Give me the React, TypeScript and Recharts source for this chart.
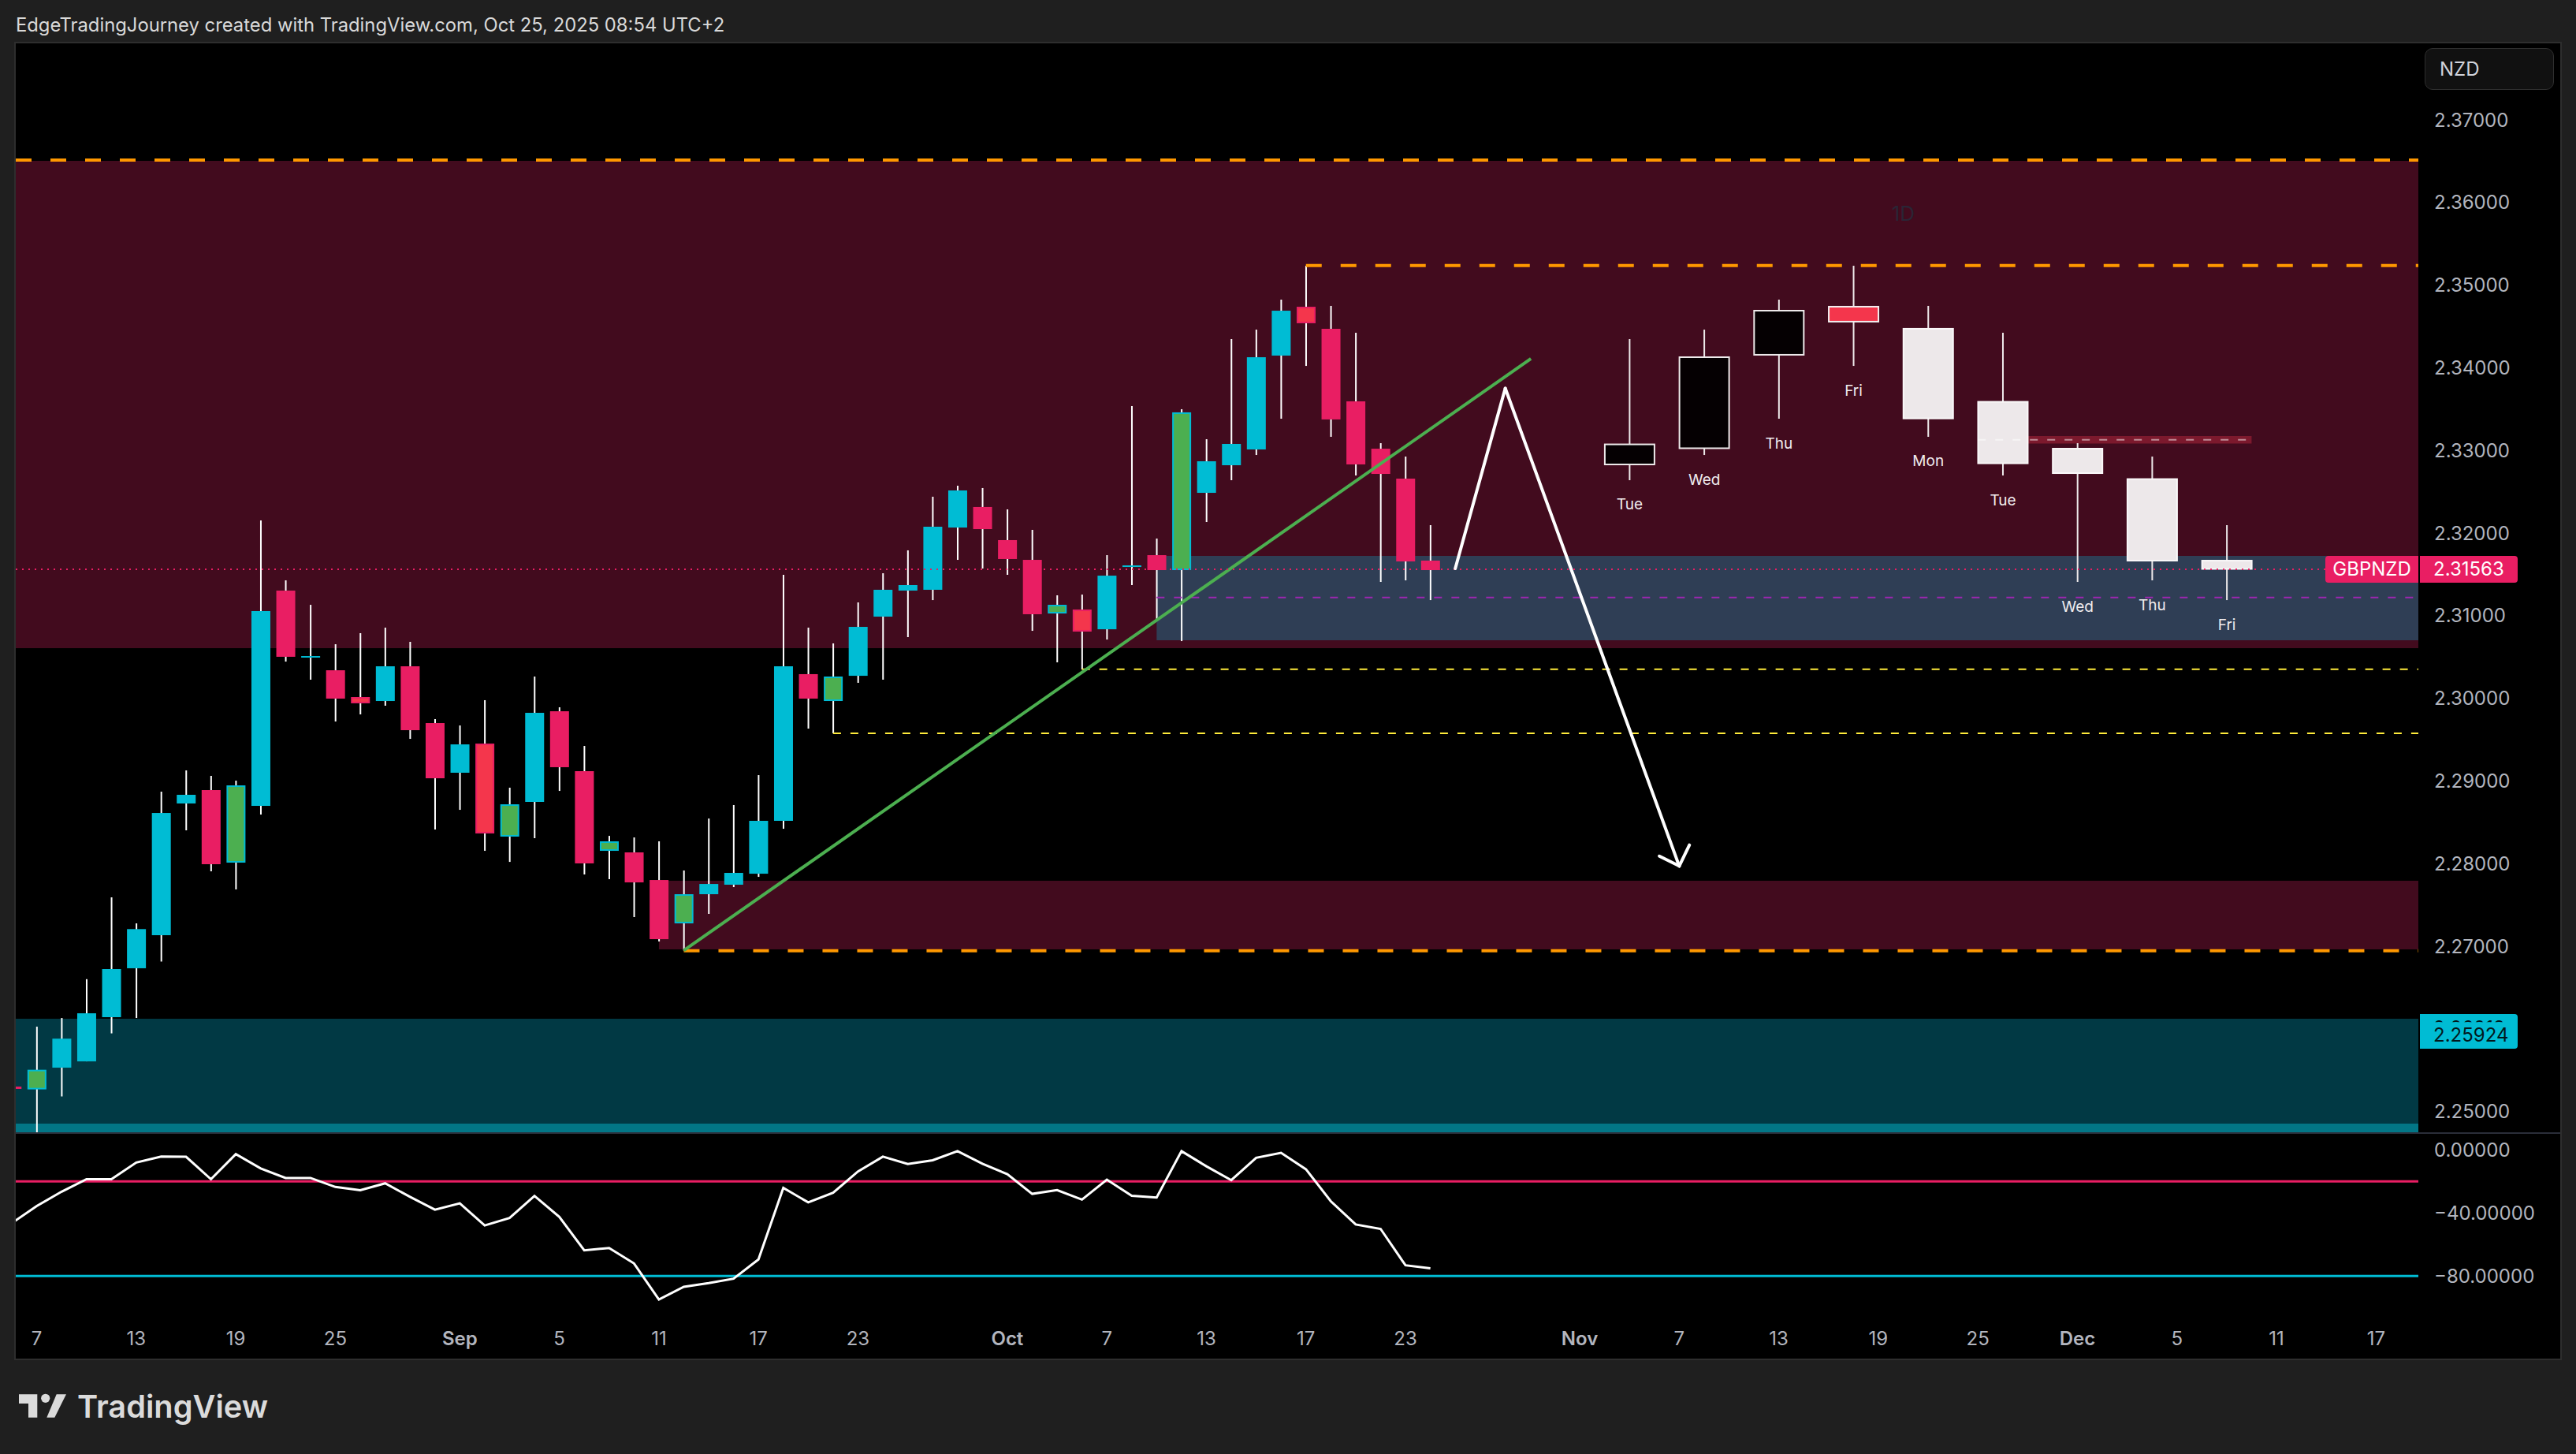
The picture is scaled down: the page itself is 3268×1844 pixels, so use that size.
import React from 'react';
import { ComposedChart, LineChart, Bar, Line, XAxis, YAxis, ReferenceArea, ReferenceLine, ReferenceDot } from 'recharts';

const FONT = 'Inter, Roboto, sans-serif';
const PINK = '#E91E63';
const CYAN = '#00BCD4';
const GREEN = '#4CAF50';
const RED = '#F4364C';
const ORANGE = '#FF9800';
const YELLOW = '#FFEB3B';
const PURPLE = '#9C27B0';
const MAROON = '#420B1E';
const AXIS_TEXT = '#B2B5BE';

// x positions are trading-day counts from Aug 7
const XMIN = -0.843;
const XMAX = 95.7;
const YMIN = 2.2475;
const YMAX = 2.37927;

const dayIndex = [-1, 0, 1, 2, 3, 4, 5, 6, 7, 8, 9, 10, 11, 12, 13, 14, 15, 16, 17, 18, 19, 20, 21, 22, 23, 24, 25, 26, 27, 28, 29, 30, 31, 32, 33, 34, 35, 36, 37, 38, 39, 40, 41, 42, 43, 44, 45, 46, 47, 48, 49, 50, 51, 52, 53, 54, 55, 56];
const kinds = ['D', 'UF', 'U', 'U', 'U', 'U', 'U', 'U', 'D', 'UF', 'U', 'D', 'U', 'D', 'DF', 'U', 'D', 'D', 'U', 'DF', 'UF', 'U', 'D', 'D', 'UF', 'D', 'D', 'UF', 'U', 'U', 'U', 'U', 'D', 'UF', 'U', 'U', 'U', 'U', 'U', 'D', 'D', 'D', 'UF', 'DF', 'U', 'U', 'D', 'UF', 'U', 'U', 'U', 'U', 'DF', 'D', 'D', 'D', 'D', 'D'];
const highs = [2.2535, 2.26028, 2.26133, 2.26603, 2.27593, 2.27278, 2.28872, 2.29129, 2.29063, 2.29005, 2.32154, 2.31429, 2.31133, 2.30656, 2.3079, 2.30857, 2.30685, 2.2975, 2.29673, 2.29979, 2.2892, 2.30265, 2.29893, 2.29425, 2.28337, 2.28318, 2.28271, 2.27918, 2.28547, 2.2871, 2.29072, 2.31496, 2.30857, 2.30666, 2.31162, 2.31515, 2.31792, 2.32441, 2.32574, 2.32546, 2.32288, 2.3204, 2.31248, 2.31257, 2.31734, 2.33538, 2.31935, 2.335, 2.33137, 2.34349, 2.34463, 2.34826, 2.35236, 2.3475, 2.34425, 2.33089, 2.32927, 2.32097];
const bodyTops = [2.25303, 2.25507, 2.25883, 2.2619, 2.26725, 2.27209, 2.28614, 2.28834, 2.28891, 2.28948, 2.31057, 2.31305, 2.30513, 2.30341, 2.30017, 2.30389, 2.30389, 2.29702, 2.29444, 2.29454, 2.28719, 2.29826, 2.29845, 2.2912, 2.28271, 2.28137, 2.27803, 2.27631, 2.27755, 2.27889, 2.28519, 2.30389, 2.30294, 2.30265, 2.30866, 2.31315, 2.31372, 2.32078, 2.32517, 2.32317, 2.31916, 2.31677, 2.31133, 2.31076, 2.31486, 2.3161, 2.31734, 2.33462, 2.3287, 2.3308, 2.34129, 2.34692, 2.3474, 2.34473, 2.33595, 2.33022, 2.3266, 2.31668];
const bodyBottoms = [2.25275, 2.25269, 2.25532, 2.25608, 2.26143, 2.26735, 2.27135, 2.28729, 2.27994, 2.28013, 2.287, 2.30504, 2.30494, 2.29998, 2.29941, 2.29969, 2.29616, 2.29034, 2.29101, 2.28366, 2.28328, 2.28748, 2.29168, 2.28004, 2.28156, 2.27774, 2.27087, 2.27278, 2.27631, 2.27746, 2.27879, 2.28519, 2.29998, 2.29969, 2.30274, 2.3099, 2.31305, 2.31315, 2.32068, 2.32049, 2.31687, 2.31019, 2.31028, 2.30809, 2.30837, 2.31591, 2.31553, 2.31553, 2.32488, 2.32822, 2.33013, 2.34149, 2.3454, 2.33376, 2.32832, 2.32717, 2.31658, 2.31553];
const lows = [2.2525, 2.2475, 2.25184, 2.25608, 2.25947, 2.26133, 2.26816, 2.28404, 2.27908, 2.27689, 2.28595, 2.30446, 2.30227, 2.29721, 2.29807, 2.29912, 2.29511, 2.28414, 2.28652, 2.28156, 2.28022, 2.28309, 2.28881, 2.2787, 2.27813, 2.27355, 2.27059, 2.2695, 2.27393, 2.27717, 2.27841, 2.28423, 2.29635, 2.29578, 2.30189, 2.30227, 2.30742, 2.3119, 2.31677, 2.31572, 2.31496, 2.30818, 2.30437, 2.30351, 2.30713, 2.31372, 2.30962, 2.30694, 2.32135, 2.32641, 2.32946, 2.33385, 2.34024, 2.33166, 2.32698, 2.3141, 2.31429, 2.3119];

// projected copy of the latest sessions
const ghostIndex = [64, 67, 70, 73, 76, 79, 82, 85, 88];
const ghostDays = ['Tue', 'Wed', 'Thu', 'Fri', 'Mon', 'Tue', 'Wed', 'Thu', 'Fri'];
const ghostKinds = ['GD', 'GD', 'GD', 'GR', 'GL', 'GL', 'GL', 'GL', 'GL'];
const ghostHighs = [2.34349, 2.34463, 2.34826, 2.35236, 2.3475, 2.34425, 2.33089, 2.32927, 2.32097];
const ghostTops = [2.33084, 2.34139, 2.34702, 2.3475, 2.34483, 2.33599, 2.33032, 2.32664, 2.31677];
const ghostBottoms = [2.32822, 2.33018, 2.34149, 2.3455, 2.33379, 2.32836, 2.32717, 2.31658, 2.31558];
const ghostLows = [2.32641, 2.32946, 2.33385, 2.34024, 2.33166, 2.32698, 2.3141, 2.31429, 2.3119];

const priceTicks = [2.25, 2.27, 2.28, 2.29, 2.3, 2.31, 2.32, 2.33, 2.34, 2.35, 2.36, 2.37];
const oscTicks = [0, -40, -80];
const timeTickIndex = [0, 4, 8, 12, 17, 21, 25, 29, 33, 39, 43, 47, 51, 55, 62, 66, 70, 74, 78, 82, 86, 90, 94];
const timeTickLabels = ['7', '13', '19', '25', 'Sep', '5', '11', '17', '23', 'Oct', '7', '13', '17', '23', 'Nov', '7', '13', '19', '25', 'Dec', '5', '11', '17'];
const monthLabels = ['Sep', 'Oct', 'Nov', 'Dec'];

const oscValues = [-46.4, -35.6, -26.5, -18.6, -18.6, -8.0, -4.2, -4.4, -18.6, -2.7, -11.8, -17.8, -17.8, -23.5, -25.6, -21.2, -29.8, -37.9, -33.9, -47.9, -43.2, -29.2, -42.5, -63.7, -62.2, -72.0, -94.9, -86.8, -84.5, -81.7, -69.5, -24.1, -33.3, -27.2, -13.7, -4.3, -9.0, -6.6, -0.8, -8.8, -15.4, -27.9, -25.5, -31.5, -18.9, -29.1, -30.2, -0.8, -10.4, -19.2, -5.0, -1.9, -12.3, -32.6, -47.3, -50.1, -73.2, -75.1];

const LAST_PRICE = 2.31563;
const SUPPORT_PRICE = 2.25924;

const candleRows = dayIndex.map((idx, i) => ({ idx, kind: kinds[i], high: highs[i], top: bodyTops[i], bottom: bodyBottoms[i], low: lows[i], day: '', range: [lows[i], highs[i]] }));
const ghostRows = ghostIndex.map((idx, i) => ({ idx, kind: ghostKinds[i], high: ghostHighs[i], top: ghostTops[i], bottom: ghostBottoms[i], low: ghostLows[i], day: ghostDays[i], range: [ghostLows[i], ghostHighs[i]] }));
const priceRows = [...candleRows, ...ghostRows];
const oscRows = dayIndex.map((idx, i) => ({ idx, value: oscValues[i] }));

const bodyStyle: Record<string, { fill: string; stroke: string; w: number; wick: string }> = {
  U: { fill: CYAN, stroke: CYAN, w: 24, wick: '#FFFFFF' },
  D: { fill: PINK, stroke: PINK, w: 24, wick: '#FFFFFF' },
  UF: { fill: GREEN, stroke: CYAN, w: 24, wick: '#FFFFFF' },
  DF: { fill: RED, stroke: PINK, w: 24, wick: '#FFFFFF' },
  GD: { fill: '#050002', stroke: '#EEEAEB', w: 65, wick: '#EEEAEB' },
  GR: { fill: RED, stroke: '#F2EEEF', w: 65, wick: '#EEEAEB' },
  GL: { fill: '#EDE8EA', stroke: '#FAF8F9', w: 65, wick: '#EEEAEB' },
};

const Candle = (props: any) => {
  const { x, y, width, height, payload } = props;
  const style = bodyStyle[payload.kind];
  const cx = x + width / 2;
  const unit = height / (payload.high - payload.low);
  const yOf = (p: number) => y + (payload.high - p) * unit;
  const t = yOf(payload.top);
  const b = yOf(payload.bottom);
  const h = Math.max(b - t, 2);
  const inset = style.fill === style.stroke ? 0 : 1;
  return (
    <g>
      <rect x={cx - 1} y={y} width={2} height={height} fill={style.wick} />
      <rect x={cx - style.w / 2 + inset} y={t + inset} width={style.w - inset * 2} height={Math.max(h - inset * 2, 1)} fill={style.fill} stroke={style.stroke} strokeWidth={inset * 2} />
      {payload.day ? (
        <text x={cx} y={y + height + 31} textAnchor="middle" dominantBaseline="central" fontFamily={FONT} fontSize={19} fill="#F0ECEE">{payload.day}</text>
      ) : null}
    </g>
  );
};

const LastPriceTag = (props: any) => {
  const vb = props.viewBox;
  const right = vb.x + vb.width;
  const cy = vb.y;
  return (
    <g>
      <path d={`M${right} ${cy - 17}H${right - 114}a4 4 0 0 0 -4 4V${cy + 13}a4 4 0 0 0 4 4H${right}Z`} fill={PINK} />
      <text x={right - 59} y={cy} textAnchor="middle" dominantBaseline="central" fontFamily={FONT} fontSize={24} fill="#FFFFFF">GBPNZD</text>
      <path d={`M${right + 2} ${cy - 17}H${right + 122}a4 4 0 0 1 4 4V${cy + 13}a4 4 0 0 1 -4 4H${right + 2}Z`} fill={PINK} />
      <text x={right + 19} y={cy} dominantBaseline="central" fontFamily={FONT} fontSize={24} fill="#FFFFFF">{LAST_PRICE.toFixed(5)}</text>
    </g>
  );
};

const SupportTag = (props: any) => {
  const vb = props.viewBox;
  const right = vb.x + vb.width;
  const cy = vb.y;
  return (
    <g>
      <path d={`M${right + 2} ${cy - 27}H${right + 122}a4 4 0 0 1 4 4V${cy + 13}a4 4 0 0 1 -4 4H${right + 2}Z`} fill={CYAN} />
      <clipPath id="stacked-tag">
        <rect x={right + 2} y={cy - 19} width={124} height={2.2} />
      </clipPath>
      <text x={right + 19} y={cy - 9.5} dominantBaseline="central" fontFamily={FONT} fontSize={24} fill="#02181C" clipPath="url(#stacked-tag)">2.26013</text>
      <text x={right + 19} y={cy} dominantBaseline="central" fontFamily={FONT} fontSize={24} fill="#02181C">{SUPPORT_PRICE.toFixed(5)}</text>
    </g>
  );
};

const TimeTick = (props: any) => {
  const { x, y, payload } = props;
  const pos = timeTickIndex.indexOf(payload.value);
  const label = timeTickLabels[pos];
  const bold = monthLabels.includes(label);
  return (
    <text x={x} y={y + 14} textAnchor="middle" dominantBaseline="central" fontFamily={FONT} fontSize={24} fontWeight={bold ? 600 : 400} fill={AXIS_TEXT}>{label}</text>
  );
};

const formatOsc = (v: number) => (v < 0 ? '\u2212' + Math.abs(v).toFixed(5) : v.toFixed(5));

const segment = (x1: number, y1: number, x2: number, y2: number) => [{ x: x1, y: y1 }, { x: x2, y: y2 }] as any;

export default function App() {
  return (
    <div style={{ position: 'absolute', left: 0, top: 0, width: 3268, height: 1844, background: '#1F1F1F', overflow: 'hidden', fontFamily: FONT }}>
      <div style={{ position: 'absolute', left: 20, top: 16, height: 32, lineHeight: '32px', fontSize: 23.8, color: '#D9D9D9', whiteSpace: 'nowrap' }}>
        EdgeTradingJourney created with TradingView.com, Oct 25, 2025 08:54 UTC+2
      </div>
      <div style={{ position: 'absolute', left: 18, top: 53, width: 3232, height: 1672, boxSizing: 'border-box', border: '2px solid #2E2E2E', background: '#000' }} />
      <div style={{ position: 'absolute', left: 20, top: 55 }}>
        <ComposedChart width={3228} height={1381} data={priceRows} margin={{ top: 0, right: 0, bottom: 0, left: 0 }}>
          <XAxis type="number" dataKey="idx" domain={[XMIN, XMAX]} allowDataOverflow hide />
          <YAxis orientation="right" width={180} type="number" domain={[YMIN, YMAX]} allowDataOverflow ticks={priceTicks} interval={0} tickFormatter={(v: number) => v.toFixed(5)} axisLine={false} tickLine={false} tickMargin={14} tick={{ fontFamily: FONT, fontSize: 24, fill: AXIS_TEXT }} />

          <ReferenceArea x1={XMIN} x2={XMAX} y1={2.30608} y2={2.36505} fill={MAROON} fillOpacity={1} stroke="none" />
          <ReferenceArea x1={25} x2={XMAX} y1={2.26963} y2={2.27794} fill={MAROON} fillOpacity={1} stroke="none" />
          <ReferenceArea x1={XMIN} x2={XMAX} y1={YMIN} y2={2.26125} fill="#013944" fillOpacity={1} stroke="none" />
          <ReferenceArea x1={XMIN} x2={XMAX} y1={YMIN} y2={2.24855} fill="#027686" fillOpacity={1} stroke="none" />
          <ReferenceArea x1={45} x2={XMAX} y1={2.30704} y2={2.31725} fill="#2F3E55" fillOpacity={1} stroke="none" />

          <ReferenceLine segment={segment(XMIN, 2.36515, XMAX, 2.36515)} stroke={ORANGE} strokeWidth={4} strokeDasharray="20 24" />
          <ReferenceLine segment={segment(51, 2.35239, XMAX, 2.35239)} stroke={ORANGE} strokeWidth={4} strokeDasharray="20 24" />
          <ReferenceLine segment={segment(26, 2.26947, XMAX, 2.26947)} stroke={ORANGE} strokeWidth={4} strokeDasharray="20 24" />
          <ReferenceLine segment={segment(42, 2.30353, XMAX, 2.30353)} stroke={YELLOW} strokeWidth={2} strokeDasharray="10 12" />
          <ReferenceLine segment={segment(32, 2.29578, XMAX, 2.29578)} stroke={YELLOW} strokeWidth={2} strokeDasharray="10 12" />
          <ReferenceLine segment={segment(45, 2.31222, XMAX - 0.2, 2.31222)} stroke={PURPLE} strokeWidth={2} strokeDasharray="10 12" />

          <ReferenceLine segment={segment(26, 2.2695, 60.04, 2.34111)} stroke={GREEN} strokeWidth={4} />

          <Bar dataKey="range" barSize={24} shape={<Candle />} isAnimationActive={false} />

          <ReferenceArea x1={78} x2={89} y1={2.33084} y2={2.33175} fill={RED} fillOpacity={0.33} stroke="none" />
          <ReferenceLine segment={segment(78, 2.3313, 89, 2.3313)} stroke="#FFFFFF" strokeOpacity={0.5} strokeWidth={2} strokeDasharray="10 12" />

          <ReferenceLine segment={segment(XMIN, LAST_PRICE, XMAX, LAST_PRICE)} stroke={PINK} strokeWidth={2} strokeDasharray="2 6" label={(p: any) => <LastPriceTag {...p} />} />
          <ReferenceLine segment={segment(XMIN, SUPPORT_PRICE, XMAX, SUPPORT_PRICE)} stroke="none" strokeOpacity={0} label={(p: any) => <SupportTag {...p} />} />

          <ReferenceLine segment={segment(57, 2.31572, 59.01, 2.33753)} stroke="#FFFFFF" strokeWidth={4} strokeLinecap="round" />
          <ReferenceLine segment={segment(59.01, 2.33753, 66, 2.27972)} stroke="#FFFFFF" strokeWidth={4} strokeLinecap="round" />
          <ReferenceLine segment={segment(65.2, 2.28092, 66, 2.27972)} stroke="#FFFFFF" strokeWidth={4} strokeLinecap="round" />
          <ReferenceLine segment={segment(66.41, 2.28226, 66, 2.27972)} stroke="#FFFFFF" strokeWidth={4} strokeLinecap="round" />

          <ReferenceDot x={75} y={2.3587} r={0} fill="none" stroke="none" label={{ value: '1D', fill: '#2B2535', fontSize: 26, fontFamily: FONT, position: 'center' }} />
        </ComposedChart>
      </div>
      <div style={{ position: 'absolute', left: 20, top: 1436, width: 3228, height: 2, background: '#2A2E39' }} />
      <div style={{ position: 'absolute', left: 20, top: 1438 }}>
        <LineChart width={3228} height={285} data={oscRows} margin={{ top: 0, right: 0, bottom: 0, left: 0 }}>
          <XAxis type="number" dataKey="idx" domain={[XMIN, XMAX]} allowDataOverflow ticks={timeTickIndex} interval={0} height={48} axisLine={false} tickLine={false} tick={<TimeTick />} />
          <YAxis orientation="right" width={180} type="number" domain={[-108.35, 10.15]} allowDataOverflow ticks={oscTicks} interval={0} tickFormatter={formatOsc} axisLine={false} tickLine={false} tickMargin={14} tick={{ fontFamily: FONT, fontSize: 24, fill: AXIS_TEXT }} />
          <ReferenceLine y={-20} stroke={PINK} strokeWidth={3} />
          <ReferenceLine y={-80} stroke={CYAN} strokeWidth={3} />
          <Line dataKey="value" type="linear" stroke="#FFFFFF" strokeWidth={3} dot={false} isAnimationActive={false} />
        </LineChart>
      </div>
      <div style={{ position: 'absolute', left: 3076, top: 61, width: 164, height: 53, boxSizing: 'border-box', border: '1px solid #2E2E2E', borderRadius: 10, background: '#111111', color: '#D1D4DC', fontSize: 24, lineHeight: '51px', paddingLeft: 18 }}>NZD</div>
      <svg style={{ position: 'absolute', left: 0, top: 1750 }} width={400} height={70}>
        <path d="M24 18.3H47.3V47.7H36V30H24Z" fill="#DBDBDB" />
        <circle cx={57.7} cy={23.3} r={5.6} fill="#DBDBDB" />
        <path d="M71.7 18.3H84L69.3 47.7H59.3Z" fill="#DBDBDB" />
        <text x={98} y={47.7} fontFamily={FONT} fontSize={40} fontWeight={600} fill="#DBDBDB" textLength={242} lengthAdjust="spacingAndGlyphs">TradingView</text>
      </svg>
    </div>
  );
}
